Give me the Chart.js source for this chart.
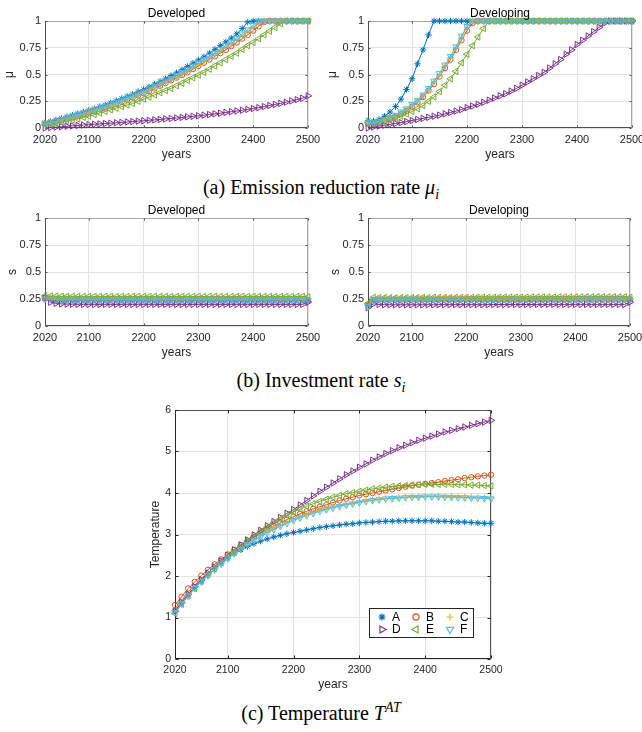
<!DOCTYPE html>
<html>
<head>
<meta charset="utf-8">
<title>Scenario results</title>
<script src="https://cdn.jsdelivr.net/npm/chart.js@4.4.1/dist/chart.umd.min.js"></script>
<style>
  html, body { margin: 0; padding: 0; background: #fff; }
  body { position: relative; width: 642px; height: 732px; overflow: hidden; }
  canvas { position: absolute; }
  .caption { position: absolute; left: 0; width: 642px; text-align: center;
    font-family: "Liberation Serif", "Times New Roman", serif; font-size: 20px; line-height: 24px; color: #000; }
  .caption sub, .caption sup { font-size: 14px; line-height: 0; }
</style>
</head>
<body>
<canvas id="mu-developed" style="left:0;top:0" width="322" height="165"></canvas>
<canvas id="mu-developing" style="left:321px;top:0" width="321" height="165"></canvas>
<div class="caption" style="top:175px">(a) Emission reduction rate <i>μ<sub>i</sub></i></div>
<canvas id="s-developed" style="left:0;top:195px" width="322" height="170"></canvas>
<canvas id="s-developing" style="left:321px;top:195px" width="321" height="170"></canvas>
<div class="caption" style="top:368px">(b) Investment rate <i>s<sub>i</sub></i></div>
<canvas id="temperature" style="left:120px;top:395px" width="400" height="305"></canvas>
<div class="caption" style="top:701px">(c) Temperature <i>T<sup>AT</sup></i></div>

<script>
// data, one value every 10 years
const years = [
  2020, 2030, 2040, 2050, 2060, 2070, 2080, 2090, 2100, 2110,
  2120, 2130, 2140, 2150, 2160, 2170, 2180, 2190, 2200, 2210,
  2220, 2230, 2240, 2250, 2260, 2270, 2280, 2290, 2300, 2310,
  2320, 2330, 2340, 2350, 2360, 2370, 2380, 2390, 2400, 2410,
  2420, 2430, 2440, 2450, 2460, 2470, 2480, 2490, 2500];
const xTicks = [2020, 2100, 2200, 2300, 2400, 2500];
const fracTicks = [0, 0.25, 0.5, 0.75, 1];
const tempTicks = [0, 1, 2, 3, 4, 5, 6];
const scenarios = ['A', 'B', 'C', 'D', 'E', 'F'];

// emission reduction rate, developed
const muDedA = [
  .05, .06, .075, .09, .105, .12, .135, .15, .165, .18,
  .2, .215, .235, .255, .275, .295, .315, .34, .36, .385,
  .41, .435, .46, .49, .515, .545, .575, .605, .635, .665,
  .7, .735, .77, .805, .84, .88, .93, .99, 1, 1,
  1, 1, 1, 1, 1, 1, 1, 1, 1];
const muDedB = [
  .04, .05, .06, .07, .085, .1, .115, .13, .145, .16,
  .175, .19, .21, .225, .245, .265, .285, .305, .325, .345,
  .37, .395, .42, .445, .47, .495, .52, .55, .58, .61,
  .64, .67, .7, .73, .765, .8, .835, .87, .91, .95,
  .99, 1, 1, 1, 1, 1, 1, 1, 1];
const muDedC = [
  .04, .045, .06, .075, .09, .105, .12, .135, .15, .165,
  .18, .195, .21, .23, .25, .27, .29, .31, .33, .355,
  .38, .405, .43, .455, .48, .505, .535, .565, .595, .625,
  .655, .685, .72, .755, .79, .825, .86, .9, .94, .98,
  1, 1, 1, 1, 1, 1, 1, 1, 1];
const muDedD = [
  0, .004, .008, .012, .016, .02, .024, .028, .032, .035,
  .038, .042, .045, .049, .052, .056, .06, .064, .068, .072,
  .076, .08, .085, .089, .094, .099, .104, .109, .114, .12,
  .126, .132, .138, .145, .152, .159, .166, .174, .182, .19,
  .2, .21, .22, .23, .241, .253, .265, .278, .3];
const muDedE = [
  .03, .035, .045, .055, .065, .075, .085, .1, .11, .125,
  .14, .155, .17, .185, .2, .215, .23, .25, .27, .29,
  .31, .33, .35, .37, .395, .42, .445, .47, .495, .52,
  .55, .58, .61, .64, .67, .7, .735, .77, .8, .835,
  .87, .905, .94, .975, 1, 1, 1, 1, 1];
const muDedF = [
  .04, .05, .065, .08, .095, .11, .125, .14, .155, .17,
  .185, .2, .22, .24, .26, .28, .3, .32, .34, .365,
  .39, .415, .44, .465, .49, .52, .55, .58, .61, .64,
  .67, .7, .735, .77, .805, .84, .88, .92, .96, 1,
  1, 1, 1, 1, 1, 1, 1, 1, 1];

// emission reduction rate, developing
const muDingA = [
  .07, .065, .08, .11, .15, .2, .27, .36, .46, .6,
  .73, .87, 1, 1, 1, 1, 1, 1, 1, 1,
  1, 1, 1, 1, 1, 1, 1, 1, 1, 1,
  1, 1, 1, 1, 1, 1, 1, 1, 1, 1,
  1, 1, 1, 1, 1, 1, 1, 1, 1];
const muDingB = [
  .04, .04, .05, .065, .085, .105, .13, .16, .2, .24,
  .29, .35, .41, .48, .56, .64, .73, .82, .91, .98,
  1, 1, 1, 1, 1, 1, 1, 1, 1, 1,
  1, 1, 1, 1, 1, 1, 1, 1, 1, 1,
  1, 1, 1, 1, 1, 1, 1, 1, 1];
const muDingC = [
  .05, .045, .055, .07, .09, .11, .14, .17, .21, .25,
  .3, .36, .43, .5, .58, .66, .75, .85, .94, 1,
  1, 1, 1, 1, 1, 1, 1, 1, 1, 1,
  1, 1, 1, 1, 1, 1, 1, 1, 1, 1,
  1, 1, 1, 1, 1, 1, 1, 1, 1];
const muDingD = [
  0, .01, .018, .026, .034, .042, .05, .06, .07, .08,
  .09, .1, .11, .12, .132, .145, .158, .172, .19, .205,
  .222, .24, .26, .28, .3, .32, .345, .37, .4, .43,
  .46, .49, .52, .56, .6, .64, .69, .73, .78, .82,
  .86, .9, .94, .98, 1, 1, 1, 1, 1];
const muDingE = [
  .05, .04, .05, .06, .075, .09, .11, .13, .155, .18,
  .21, .25, .29, .34, .4, .46, .53, .61, .69, .77,
  .85, .93, 1, 1, 1, 1, 1, 1, 1, 1,
  1, 1, 1, 1, 1, 1, 1, 1, 1, 1,
  1, 1, 1, 1, 1, 1, 1, 1, 1];
const muDingF = [
  .05, .05, .06, .08, .1, .12, .15, .18, .22, .26,
  .31, .37, .44, .51, .59, .67, .76, .86, .95, 1,
  1, 1, 1, 1, 1, 1, 1, 1, 1, 1,
  1, 1, 1, 1, 1, 1, 1, 1, 1, 1,
  1, 1, 1, 1, 1, 1, 1, 1, 1];

// investment rate, developed
const sDedA = [
  .26, .25, .245, .243, .242, .241, .241, .24, .24, .24,
  .24, .24, .24, .24, .24, .24, .24, .24, .24, .24,
  .24, .24, .24, .24, .24, .24, .24, .24, .24, .24,
  .24, .24, .24, .24, .24, .24, .24, .24, .24, .24,
  .24, .24, .24, .24, .24, .24, .24, .24, .235];
const sDedB = [
  .255, .25, .248, .247, .246, .246, .245, .245, .245, .245,
  .245, .245, .245, .245, .245, .245, .245, .245, .245, .245,
  .245, .245, .245, .245, .245, .245, .245, .245, .245, .245,
  .245, .245, .245, .245, .245, .245, .245, .245, .245, .245,
  .245, .245, .245, .245, .245, .245, .245, .245, .24];
const sDedC = [
  .255, .25, .248, .247, .247, .246, .246, .246, .246, .246,
  .246, .246, .246, .246, .246, .246, .246, .246, .246, .246,
  .246, .246, .246, .246, .246, .246, .246, .246, .246, .246,
  .246, .246, .246, .246, .246, .246, .246, .246, .246, .246,
  .246, .246, .246, .246, .246, .246, .246, .246, .24];
const sDedD = [
  .26, .22, .21, .205, .203, .202, .201, .2, .2, .2,
  .2, .2, .2, .2, .2, .2, .2, .2, .2, .2,
  .2, .2, .2, .2, .2, .2, .2, .2, .2, .2,
  .2, .2, .2, .2, .2, .2, .2, .2, .2, .2,
  .2, .2, .2, .2, .2, .2, .2, .2, .22];
const sDedE = [
  .28, .278, .276, .275, .275, .275, .274, .274, .274, .274,
  .274, .274, .274, .274, .274, .274, .274, .274, .274, .274,
  .274, .274, .274, .274, .274, .274, .274, .274, .274, .274,
  .274, .274, .274, .274, .274, .274, .274, .274, .274, .274,
  .274, .274, .274, .274, .274, .274, .274, .274, .27];
const sDedF = [
  .25, .248, .246, .245, .244, .244, .243, .243, .243, .243,
  .243, .243, .243, .243, .243, .243, .243, .243, .243, .243,
  .243, .243, .243, .243, .243, .243, .243, .243, .243, .243,
  .243, .243, .243, .243, .243, .243, .243, .243, .243, .243,
  .243, .243, .243, .243, .243, .243, .243, .243, .24];

// investment rate, developing
const sDingA = [
  .2, .24, .245, .245, .245, .245, .245, .245, .246, .246,
  .246, .246, .246, .247, .247, .247, .247, .247, .248, .248,
  .248, .248, .248, .248, .248, .248, .248, .248, .248, .248,
  .249, .249, .249, .249, .249, .249, .249, .249, .249, .249,
  .25, .25, .25, .25, .25, .25, .25, .25, .245];
const sDingB = [
  .19, .24, .244, .244, .244, .244, .244, .244, .245, .245,
  .245, .245, .245, .246, .246, .246, .246, .246, .247, .247,
  .247, .247, .247, .247, .247, .247, .247, .247, .247, .247,
  .248, .248, .248, .248, .248, .248, .248, .248, .248, .248,
  .249, .249, .249, .249, .249, .249, .249, .249, .245];
const sDingC = [
  .19, .24, .244, .244, .244, .244, .244, .244, .245, .245,
  .245, .245, .245, .246, .246, .246, .246, .246, .247, .247,
  .247, .247, .247, .247, .247, .247, .247, .247, .247, .247,
  .248, .248, .248, .248, .248, .248, .248, .248, .248, .248,
  .249, .249, .249, .249, .249, .249, .249, .249, .245];
const sDingD = [
  .17, .205, .2, .198, .197, .197, .197, .197, .197, .197,
  .197, .197, .197, .198, .198, .198, .198, .198, .198, .198,
  .198, .198, .198, .199, .199, .199, .199, .199, .199, .199,
  .199, .199, .2, .2, .2, .2, .2, .2, .2, .2,
  .2, .2, .2, .2, .2, .2, .2, .2, .22];
const sDingE = [
  .21, .265, .264, .263, .262, .262, .262, .262, .263, .263,
  .263, .263, .264, .264, .264, .264, .265, .265, .265, .265,
  .266, .266, .266, .266, .266, .267, .267, .267, .267, .267,
  .268, .268, .268, .268, .268, .269, .269, .269, .269, .269,
  .27, .27, .27, .27, .27, .27, .27, .27, .265];
const sDingF = [
  .18, .235, .243, .243, .243, .243, .243, .243, .244, .244,
  .244, .244, .244, .245, .245, .245, .245, .245, .246, .246,
  .246, .246, .246, .246, .246, .246, .246, .246, .246, .246,
  .247, .247, .247, .247, .247, .247, .247, .247, .247, .247,
  .248, .248, .248, .248, .248, .248, .248, .248, .245];

// atmospheric temperature
const tempA = [
  1.15, 1.35, 1.55, 1.72, 1.88, 2.03, 2.17, 2.3, 2.43, 2.54,
  2.63, 2.71, 2.78, 2.84, 2.89, 2.94, 2.98, 3.02, 3.05, 3.08,
  3.11, 3.14, 3.17, 3.19, 3.21, 3.23, 3.25, 3.26, 3.28, 3.29,
  3.3, 3.31, 3.32, 3.32, 3.33, 3.33, 3.33, 3.33, 3.33, 3.33,
  3.32, 3.32, 3.31, 3.3, 3.3, 3.29, 3.28, 3.27, 3.27];
const tempB = [
  1.3, 1.5, 1.7, 1.86, 2.01, 2.15, 2.28, 2.4, 2.52, 2.63,
  2.74, 2.84, 2.94, 3.03, 3.12, 3.2, 3.28, 3.36, 3.43, 3.5,
  3.56, 3.62, 3.67, 3.72, 3.77, 3.82, 3.86, 3.9, 3.94, 3.97,
  4.0, 4.03, 4.06, 4.09, 4.12, 4.15, 4.18, 4.2, 4.22, 4.24,
  4.26, 4.29, 4.31, 4.33, 4.36, 4.38, 4.4, 4.42, 4.44];
const tempC = [
  1.15, 1.36, 1.55, 1.72, 1.88, 2.03, 2.17, 2.31, 2.44, 2.56,
  2.67, 2.78, 2.88, 2.97, 3.06, 3.14, 3.22, 3.29, 3.36, 3.42,
  3.48, 3.53, 3.58, 3.62, 3.66, 3.7, 3.73, 3.76, 3.79, 3.81,
  3.83, 3.85, 3.87, 3.88, 3.89, 3.9, 3.91, 3.91, 3.92, 3.92,
  3.92, 3.92, 3.91, 3.91, 3.9, 3.9, 3.89, 3.89, 3.88];
const tempD = [
  1.15, 1.36, 1.56, 1.74, 1.91, 2.07, 2.22, 2.36, 2.5, 2.63,
  2.75, 2.87, 2.99, 3.1, 3.21, 3.31, 3.41, 3.51, 3.6, 3.71,
  3.82, 3.93, 4.04, 4.14, 4.24, 4.34, 4.44, 4.53, 4.62, 4.7,
  4.79, 4.87, 4.95, 5.02, 5.09, 5.15, 5.21, 5.27, 5.32, 5.37,
  5.42, 5.47, 5.51, 5.55, 5.59, 5.63, 5.67, 5.71, 5.75];
const tempE = [
  1.1, 1.32, 1.52, 1.7, 1.87, 2.03, 2.18, 2.32, 2.46, 2.59,
  2.72, 2.84, 2.96, 3.07, 3.18, 3.28, 3.37, 3.46, 3.54, 3.61,
  3.68, 3.74, 3.8, 3.85, 3.9, 3.94, 3.98, 4.01, 4.04, 4.07,
  4.1, 4.12, 4.14, 4.16, 4.17, 4.18, 4.19, 4.2, 4.21, 4.21,
  4.21, 4.21, 4.21, 4.2, 4.2, 4.19, 4.19, 4.18, 4.17];
const tempF = [
  1.12, 1.33, 1.52, 1.7, 1.86, 2.01, 2.15, 2.29, 2.42, 2.54,
  2.65, 2.76, 2.86, 2.95, 3.04, 3.12, 3.2, 3.27, 3.34, 3.4,
  3.46, 3.51, 3.56, 3.6, 3.64, 3.68, 3.71, 3.74, 3.77, 3.8,
  3.82, 3.84, 3.86, 3.87, 3.88, 3.89, 3.9, 3.9, 3.91, 3.91,
  3.91, 3.9, 3.9, 3.89, 3.89, 3.88, 3.88, 3.87, 3.86];

// matlab default colour order and marker per scenario
const colors = ['#0072BD', '#D95319', '#EDB120', '#7E2F8E', '#77AC30', '#4DBEEE'];
const markers = ['star', 'circle', 'cross', 'triangle', 'triangle', 'triangle'];
const rotations = [0, 0, 0, 90, -90, 180];
const markerSize = [3.2, 2.7, 3.2, 3.7, 3.7, 3.7];

const FONT = '"Liberation Sans", Arial, Helvetica, sans-serif';
const INK = '#262626';
const GRID = '#e3e3e3';

// box round the axes with inward ticks, plus the panel title
const framePlugin = {
  id: 'frame',
  beforeDatasetsDraw(chart, args, opts) {
    const { ctx, chartArea: a, scales } = chart;
    const l = Math.round(a.left) + 0.5, r = Math.round(a.right) - 0.5;
    const t = Math.round(a.top) + 0.5, b = Math.round(a.bottom) - 0.5;
    ctx.save();
    ctx.lineWidth = 1;
    ctx.strokeStyle = opts.far;
    ctx.beginPath();
    ctx.moveTo(l, t); ctx.lineTo(r, t); ctx.lineTo(r, b);
    ctx.stroke();
    ctx.strokeStyle = opts.near;
    ctx.beginPath();
    ctx.moveTo(l, t); ctx.lineTo(l, b); ctx.lineTo(r, b);
    scales.x.ticks.forEach(tk => {
      const x = Math.round(scales.x.getPixelForValue(tk.value)) + 0.5;
      ctx.moveTo(x, b); ctx.lineTo(x, b - opts.tick);
      ctx.moveTo(x, t); ctx.lineTo(x, t + opts.tick);
    });
    scales.y.ticks.forEach(tk => {
      const y = Math.round(scales.y.getPixelForValue(tk.value)) + 0.5;
      ctx.moveTo(l, y); ctx.lineTo(l + opts.tick, y);
      ctx.moveTo(r, y); ctx.lineTo(r - opts.tick, y);
    });
    ctx.stroke();
    ctx.restore();
  },
  afterDraw(chart, args, opts) {
    if (!opts.title) return;
    const { ctx, chartArea: a } = chart;
    ctx.save();
    ctx.font = '12px ' + FONT;
    ctx.fillStyle = '#000';
    ctx.textAlign = 'center';
    ctx.textBaseline = 'alphabetic';
    ctx.fillText(opts.title, (a.left + a.right) / 2, a.top - 4);
    ctx.restore();
  }
};

// legend box inside the temperature axes, 3 columns
const keyPlugin = {
  id: 'key',
  afterDatasetsDraw(chart, args, opts) {
    if (!opts.show) return;
    const { ctx, chartArea: a } = chart;
    const w = 104, h = 29;
    const x0 = Math.round(a.right - 18 - w), y0 = Math.round(a.bottom - 22 - h);
    ctx.save();
    ctx.fillStyle = '#fff';
    ctx.fillRect(x0, y0, w, h);
    ctx.strokeStyle = INK;
    ctx.lineWidth = 1;
    ctx.strokeRect(x0 + 0.5, y0 + 0.5, w, h);
    ctx.font = '12px ' + FONT;
    ctx.textBaseline = 'middle';
    chart.data.datasets.forEach((ds, i) => {
      const mx = x0 + 13 + (i % 3) * 34;
      const my = y0 + 9 + Math.floor(i / 3) * 12.5;
      ctx.strokeStyle = ds.pointBorderColor;
      ctx.fillStyle = 'rgba(0,0,0,0)';
      ctx.lineWidth = 1.2;
      Chart.helpers.drawPoint(ctx, {
        pointStyle: ds.pointStyle, rotation: ds.pointRotation,
        radius: ds.pointRadius + 0.4, borderWidth: 1.2
      }, mx, my);
      ctx.fillStyle = '#000';
      ctx.fillText(ds.label, mx + 10, my + 0.5);
    });
    ctx.restore();
  }
};

function makeSets(list) {
  return list.map((values, i) => ({
    label: scenarios[i],
    data: values.map((v, k) => ({ x: years[k], y: v })),
    borderColor: colors[i],
    backgroundColor: colors[i],
    borderWidth: 1,
    pointStyle: markers[i],
    pointRotation: rotations[i],
    pointRadius: markerSize[i],
    pointBorderWidth: 1,
    pointBorderColor: colors[i],
    pointBackgroundColor: 'rgba(0,0,0,0)',
    order: 5 - i,
    clip: false
  }));
}

function makePanel(id, area, p) {
  const canvas = document.getElementById(id);
  return new Chart(canvas, {
    type: 'line',
    data: { datasets: makeSets(p.sets) },
    options: {
      responsive: false,
      animation: false,
      devicePixelRatio: 1,
      events: [],
      layout: { padding: { left: 0, top: area.top, right: canvas.width - area.right, bottom: 0 } },
      scales: {
        x: {
          type: 'linear', min: 2020, max: 2500,
          afterBuildTicks: s => { s.ticks = xTicks.map(v => ({ value: v })); },
          afterFit: s => { s.height = canvas.height - area.bottom; s.paddingLeft = 0; s.paddingRight = 0; },
          grid: { color: GRID, drawTicks: false },
          border: { display: false },
          ticks: { color: INK, font: { family: FONT, size: p.tickSize }, padding: 5,
            maxRotation: 0, autoSkip: false, callback: v => String(v) },
          title: { display: true, text: 'years', color: INK, font: { family: FONT, size: 12 },
            padding: { top: 0, bottom: p.xTitlePad } }
        },
        y: {
          type: 'linear', min: 0, max: p.yMax,
          afterBuildTicks: s => { s.ticks = p.yTicks.map(v => ({ value: v })); },
          afterFit: s => { s.width = area.left; s.paddingTop = 0; s.paddingBottom = 0; },
          grid: { color: GRID, drawTicks: false },
          border: { display: false },
          ticks: { color: INK, font: { family: FONT, size: p.tickSize }, padding: 4, callback: v => String(v) },
          title: { display: true, text: p.yLabel, color: INK, font: { family: FONT, size: 12 },
            padding: { top: p.yTitlePad, bottom: 0 } }
        }
      },
      plugins: {
        legend: { display: false },
        tooltip: { enabled: false },
        frame: { title: p.title, near: p.near, far: p.far, tick: p.tick },
        key: { show: !!p.key }
      }
    },
    plugins: [framePlugin, keyPlugin]
  });
}

const small = { tickSize: 11, yMax: 1, yTicks: fracTicks, near: '#4d4d4d', far: '#a6a6a6', tick: 2 };

makePanel('mu-developed', { left: 45, top: 21, right: 308, bottom: 128 }, Object.assign({}, small, {
  title: 'Developed', yLabel: 'μ', xTitlePad: 2.8, yTitlePad: 2.8,
  sets: [muDedA, muDedB, muDedC, muDedD, muDedE, muDedF] }));

makePanel('mu-developing', { left: 47, top: 21, right: 311, bottom: 128 }, Object.assign({}, small, {
  title: 'Developing', yLabel: 'μ', xTitlePad: 2.8, yTitlePad: 4.8,
  sets: [muDingA, muDingB, muDingC, muDingD, muDingE, muDingF] }));

makePanel('s-developed', { left: 45, top: 23, right: 308, bottom: 131 }, Object.assign({}, small, {
  title: 'Developed', yLabel: 's', xTitlePad: 4.8, yTitlePad: 5.5,
  sets: [sDedA, sDedB, sDedC, sDedD, sDedE, sDedF] }));

makePanel('s-developing', { left: 47, top: 23, right: 309, bottom: 131 }, Object.assign({}, small, {
  title: 'Developing', yLabel: 's', xTitlePad: 4.8, yTitlePad: 7.5,
  sets: [sDingA, sDingB, sDingC, sDingD, sDingE, sDingF] }));

makePanel('temperature', { left: 55, top: 15, right: 371, bottom: 264 }, {
  tickSize: 10.5, yMax: 6, yTicks: tempTicks, near: INK, far: '#555', tick: 3,
  title: '', yLabel: 'Temperature', xTitlePad: 7.8, yTitlePad: 28.8, key: true,
  sets: [tempA, tempB, tempC, tempD, tempE, tempF] });
</script>
</body>
</html>
